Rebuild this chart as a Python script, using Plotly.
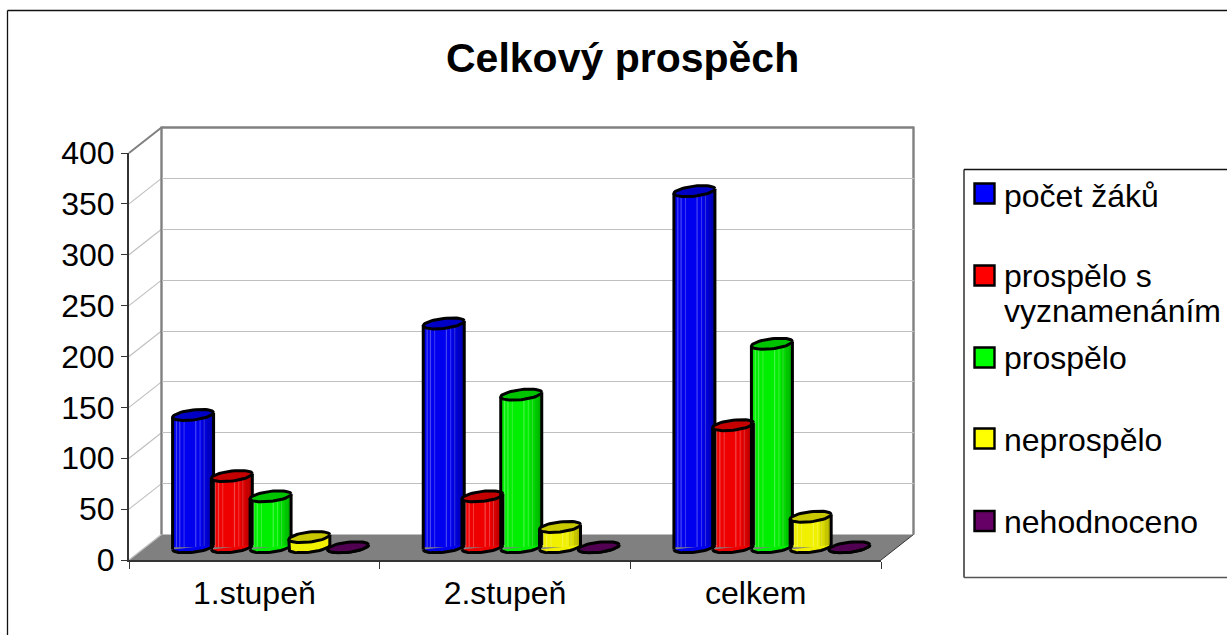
import numpy as np
import plotly.graph_objects as go

TITLE = "Celkový prospěch"
CATEGORIES = ["1.stupeň", "2.stupeň", "celkem"]
SERIES_NAMES = ["počet žáků", "prospělo s vyznamenáním", "prospělo", "neprospělo", "nehodnoceno"]
LEGEND_LINES = [["počet žáků"], ["prospělo s", "vyznamenáním"], ["prospělo"], ["neprospělo"], ["nehodnoceno"]]
POCET_ZAKU = [130, 220, 350]
S_VYZNAMENANIM = [70, 50, 120]
PROSPELO = [50, 150, 200]
NEPROSPELO = [10, 20, 30]
NEHODNOCENO = [0, 0, 0]
SERIES_VALUES = [POCET_ZAKU, S_VYZNAMENANIM, PROSPELO, NEPROSPELO, NEHODNOCENO]
BODY_COLORS = ["#0000ee", "#ee0000", "#00ee00", "#f0f000", "#660066"]
CAP_COLORS = ["#0000c4", "#c40000", "#00c400", "#c8c800", "#520052"]
SWATCH_COLORS = ["#0000ff", "#ff0000", "#00ff00", "#ffff00", "#660066"]
LEGEND_SWATCH_Y = [193.5, 275.5, 357.5, 438.5, 521]
LEGEND_TEXT_Y = [[195.5], [276, 311], [358], [440], [522]]
Y_TICKS = list(range(0, 401, 50))
LIGHT_STRIPES = [(0.08, 0.11), (0.16, 0.19), (0.27, 0.29), (0.55, 0.58), (0.66, 0.68), (0.76, 0.78)]
DARK_BANDS = [(0.72, 1.0), (0.84, 1.0), (0.92, 1.0)]

W, H = 1227, 635
FX0, FX1, FY0, FY1 = 129.0, 881.0, 560.0, 153.0   # front axes, px
DX, DY = 32.5, 25.5                                 # depth, px
PY = (FY0 - FY1) / 400
PX = (FX1 - FX0) / 3
BAR_W = 41 / PX
BAR_STEP = 38.75 / PX
A, B, TILT = 20.5, 5.0, 2.3


def xp(p):
    return p / W


def yp(p):
    return 1 - p / H


fig = go.Figure()

# carrier traces so that front and back axes exist
fig.add_trace(go.Scatter(x=[0], y=[0], mode="none", xaxis="x", yaxis="y", showlegend=False, hoverinfo="skip"))
fig.add_trace(go.Scatter(x=[0], y=[0], mode="none", xaxis="x2", yaxis="y2", showlegend=False, hoverinfo="skip"))


def ell(cx, val, ts):
    # ellipse around (cx, val) in data units of the bar axes
    ts = np.asarray(ts)
    return (cx + A * np.cos(ts) / PX,
            val + (B * np.sin(ts) + TILT * np.cos(ts)) / PY)


T_FULL = np.linspace(0, 2 * np.pi, 49)
T_LOW = np.linspace(np.pi, 2 * np.pi, 25)
LW = 3

for i, vals in enumerate(SERIES_VALUES):
    offs = (i - 2) * BAR_STEP
    fig.add_trace(go.Bar(x=[0, 1, 2], y=vals, width=BAR_W, offset=offs - BAR_W / 2, base=0,
                         marker=dict(color=BODY_COLORS[i], line=dict(width=0)),
                         xaxis="x3", yaxis="y3", name=SERIES_NAMES[i],
                         showlegend=False))

for i, vals in enumerate(SERIES_VALUES):
    offs = (i - 2) * BAR_STEP
    lx, ly, dx_, dy_ = [], [], [], []
    for k, v in enumerate(vals):
        c = k + offs
        left = c - BAR_W / 2
        for f0, f1 in LIGHT_STRIPES:
            lx += [left + f0 * BAR_W, left + f1 * BAR_W, left + f1 * BAR_W, left + f0 * BAR_W, None]
            ly += [0, 0, v, v, None]
    if max(vals) > 0:
        fig.add_trace(go.Scatter(x=lx, y=ly, mode="lines", fill="toself", line=dict(width=0),
                                 fillcolor="rgba(255,255,255,0.28)", xaxis="x3", yaxis="y3",
                                 showlegend=False, hoverinfo="skip"))
        for f0, f1 in DARK_BANDS:
            dx_, dy_ = [], []
            for k, v in enumerate(vals):
                left = k + offs - BAR_W / 2
                dx_ += [left + f0 * BAR_W, left + f1 * BAR_W, left + f1 * BAR_W, left + f0 * BAR_W, None]
                dy_ += [0, 0, v, v, None]
            fig.add_trace(go.Scatter(x=dx_, y=dy_, mode="lines", fill="toself", line=dict(width=0),
                                     fillcolor="rgba(0,0,0,0.09)", xaxis="x3", yaxis="y3",
                                     showlegend=False, hoverinfo="skip"))
    for k, v in enumerate(vals):
        c = k + offs
        # lower half of the cylinder foot and the two sides
        bx, by = ell(c, 0, T_LOW)
        tx, ty = ell(c, v, [0.0, np.pi])
        px = [tx[1]] + list(bx) + [tx[0]]
        py = [ty[1]] + list(by) + [ty[0]]
        fig.add_trace(go.Scatter(x=px, y=py, mode="lines", fill="toself", fillcolor=BODY_COLORS[i],
                                 line=dict(color="black", width=LW), xaxis="x3", yaxis="y3",
                                 showlegend=False, hoverinfo="skip")
                      if v < 15 else
                      go.Scatter(x=list(bx), y=list(by), mode="lines", fill="toself",
                                 fillcolor=BODY_COLORS[i], line=dict(color="black", width=LW),
                                 xaxis="x3", yaxis="y3", showlegend=False, hoverinfo="skip"))
        if v >= 15:
            fig.add_trace(go.Scatter(x=[bx[0], tx[1], None, bx[-1], tx[0]], y=[by[0], ty[1], None, by[-1], ty[0]],
                                     mode="lines", line=dict(color="black", width=LW),
                                     xaxis="x3", yaxis="y3", showlegend=False, hoverinfo="skip"))
        # top cap
        ex, ey = ell(c, v, T_FULL)
        fig.add_trace(go.Scatter(x=ex, y=ey, mode="lines", fill="toself", fillcolor=CAP_COLORS[i],
                                 line=dict(color="black", width=LW), xaxis="x3", yaxis="y3",
                                 showlegend=False, hoverinfo="skip"))

shapes = []


def line(x0, y0, x1, y1, color, width):
    shapes.append(dict(type="line", xref="paper", yref="paper", x0=xp(x0), y0=yp(y0), x1=xp(x1), y1=yp(y1),
                       line=dict(color=color, width=width), layer="below"))


# outer frame
line(7.5, 10.5, W, 10.5, "#111111", 1.3)
line(7.5, 10.5, 7.5, H, "#111111", 1.3)
# floor
pts = [(FX0, FY0), (FX0 + DX, FY0 - DY), (FX1 + DX, FY0 - DY), (FX1, FY0)]
shapes.append(dict(type="path", xref="paper", yref="paper", layer="below",
                   path="M " + " L ".join(f"{xp(a):.5f},{yp(b):.5f}" for a, b in pts) + " Z",
                   fillcolor="#808080", line=dict(width=0)))
# side wall grid
for t in Y_TICKS:
    py_ = FY0 - t * PY
    line(FX0, py_, FX0 + DX, py_ - DY, "#808080" if t == 400 else "#c0c0c0", 2 if t == 400 else 1.2)
# back wall frame
line(FX0 + DX, FY1 - DY, FX1 + DX, FY1 - DY, "#808080", 2.4)
line(FX0 + DX, FY1 - DY - 1, FX0 + DX, FY0 - DY, "#808080", 2.4)
line(FX1 + DX, FY1 - DY - 1, FX1 + DX, FY0 - DY, "#808080", 2.4)
# right floor edge
line(FX1, FY0, FX1 + DX, FY0 - DY, "#333333", 1)
# legend box
line(964, 169.5, W, 169.5, "#111111", 1.3)
line(964, 169.5, 964, 577.5, "#111111", 1.3)
line(964, 577.5, W, 577.5, "#555555", 1.3)

annotations = []
for i, parts in enumerate(LEGEND_LINES):
    sy = LEGEND_SWATCH_Y[i]
    shapes.append(dict(type="rect", xref="paper", yref="paper", x0=xp(974.5), x1=xp(994.5),
                       y0=yp(sy - 10), y1=yp(sy + 10), fillcolor=SWATCH_COLORS[i],
                       line=dict(color="black", width=2.4), layer="above"))
    for txt, ty_ in zip(parts, LEGEND_TEXT_Y[i]):
        annotations.append(dict(xref="paper", yref="paper", x=xp(1002), y=yp(ty_),
                                xanchor="left", yanchor="middle", align="left", showarrow=False, text=txt,
                                font=dict(size=32)))

annotations.append(dict(xref="paper", yref="paper", x=xp(622.5), y=yp(58.5), xanchor="center", yanchor="middle",
                        showarrow=False, text=f"<b>{TITLE}</b>", font=dict(size=41)))

fig.update_layout(
    template="none",
    width=W, height=H, margin=dict(l=0, r=0, t=0, b=0), autosize=False,
    paper_bgcolor="white", plot_bgcolor="rgba(0,0,0,0)", showlegend=False,
    barmode="overlay", font=dict(family="Liberation Sans, Arial, sans-serif", color="#000000", size=32),
    shapes=shapes, annotations=annotations,
    xaxis=dict(domain=[xp(FX0), xp(FX1)], range=[-0.5, 2.5], anchor="y", tickmode="array", tickvals=[0, 1, 2],
               ticktext=CATEGORIES, ticks="", showgrid=False, zeroline=False, showline=True, automargin=False,
               linecolor="#333333", linewidth=2, tickfont=dict(size=32), ticklabelstandoff=4,
               minor=dict(tickmode="array", tickvals=[-0.5, 0.5, 1.5, 2.5], ticks="outside", ticklen=7,
                          tickcolor="#333333", tickwidth=1.2, showgrid=False)),
    yaxis=dict(domain=[yp(FY0), yp(FY1)], range=[0, 400], anchor="x", tickmode="array", tickvals=Y_TICKS,
               ticks="outside", ticklen=6, tickcolor="#333333", tickwidth=1.2, showgrid=False, zeroline=False,
               showline=True, linecolor="#333333", linewidth=2, tickfont=dict(size=32), automargin=False),
    xaxis2=dict(domain=[xp(FX0 + DX), xp(FX1 + DX)], range=[-0.5, 2.5], anchor="y2", visible=False, automargin=False),
    yaxis2=dict(domain=[yp(FY0 - DY), yp(FY1 - DY)], range=[0, 400], anchor="x2", tickmode="array",
                tickvals=Y_TICKS[1:-1], showticklabels=False, ticks="", showgrid=True, gridcolor="#c0c0c0",
                gridwidth=1.3, zeroline=False, showline=False, automargin=False),
    xaxis3=dict(domain=[xp(FX0 + DX / 2), xp(FX1 + DX / 2)], range=[-0.5, 2.5], anchor="y3", visible=False, automargin=False),
    yaxis3=dict(domain=[yp(FY0 - DY / 2 + 20 * PY), yp(FY1 - DY / 2)], range=[-20, 400], anchor="x3", visible=False, automargin=False),
)

fig.write_html("out.html", config={"displayModeBar": False},
               post_script="document.body.style.margin='0';document.body.style.overflow='hidden';")
